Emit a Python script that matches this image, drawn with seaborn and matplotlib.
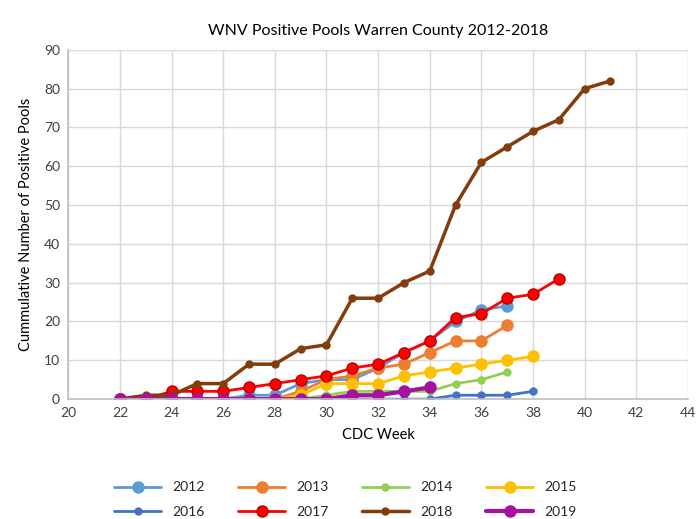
import numpy as np
import matplotlib
matplotlib.use("Agg")
import matplotlib.pyplot as plt
import seaborn as sns

weeks = list(range(22, 42))

y2012 = [0, 0, 0, 0, 0, 1, 1, 4, 5, 5, 8, 12, 15, 20, 23, 24]
y2013 = [0, 0, 0, 0, 0, 0, 0, 2, 5, 6, 8, 9, 12, 15, 15, 19]
y2014 = [0, 0, 0, 0, 0, 0, 0, 0, 1, 2, 2, 2, 2, 4, 5, 7]
y2015 = [0, 0, 0, 0, 0, 0, 0, 1, 4, 4, 4, 6, 7, 8, 9, 10, 11]
y2016 = [0, 0, 0, 0, 0, 0, 0, 0, 0, 0, 0, 0, 0, 1, 1, 1, 2]
y2017 = [0, 0, 2, 2, 2, 3, 4, 5, 6, 8, 9, 12, 15, 21, 22, 26, 27, 31]
y2018 = [0, 1, 1, 4, 4, 9, 9, 13, 14, 26, 26, 30, 33, 50, 61, 65, 69, 72, 80, 82]
y2019 = [0, 0, 0, 0, 0, 0, 0, 0, 0, 1, 1, 2, 3]

series = [
    ("2012", y2012, "#5B9BD5", "#5B9BD5", 8, 2.0),
    ("2013", y2013, "#ED7D31", "#ED7D31", 8, 2.0),
    ("2014", y2014, "#92D050", "#92D050", 5, 2.0),
    ("2015", y2015, "#FFC000", "#FFC000", 8, 2.0),
    ("2016", y2016, "#4472C4", "#4472C4", 5, 2.0),
    ("2017", y2017, "#FF0000", "#C00000", 8, 2.0),
    ("2018", y2018, "#843C0C", "#843C0C", 5, 2.5),
    ("2019", y2019, "#A5129F", "#A5129F", 8, 3.0),
]

sns.set_style("white")
plt.rcParams["font.family"] = ["Lato", "DejaVu Sans"]

fig, ax = plt.subplots(figsize=(6.97, 5.19), dpi=100)
fig.subplots_adjust(left=0.098, right=0.987, top=0.904, bottom=0.231)

handles = {}
for name, vals, col, edge, ms, lw in series:
    sns.lineplot(x=weeks[:len(vals)], y=vals, ax=ax, color=col, linewidth=lw,
                 marker="o", markersize=ms, markerfacecolor=col,
                 markeredgecolor=edge, markeredgewidth=1.0, label=name)
    handles[name] = ax.lines[-1]

ax.set_xlim(20, 44)
ax.set_ylim(0, 90)
ax.set_xticks(np.arange(20, 45, 2))
ax.set_yticks(np.arange(0, 91, 10))
ax.grid(True, color="#D9D9D9", linewidth=1.0)
ax.set_axisbelow(True)
for s in ["top", "right"]:
    ax.spines[s].set_visible(False)
for s in ["left", "bottom"]:
    ax.spines[s].set_color("#BFBFBF")
    ax.spines[s].set_linewidth(1.2)
ax.tick_params(axis="both", labelsize=10, colors="#404040", length=0, pad=6)

ax.set_xlabel("CDC Week", fontsize=10.5, color="#000000", labelpad=6)
ax.set_ylabel("Cummulative Number of Positive Pools", fontsize=10.5, color="#000000", labelpad=8)
ax.set_title("WNV Positive Pools Warren County 2012-2018", fontsize=11.5, color="#000000", pad=11)

# legend fills column-wise, so reorder to get 2012-2015 on the first row
order = ["2012", "2016", "2013", "2017", "2014", "2018", "2015", "2019"]
ax.legend([handles[n] for n in order], order, loc="upper center",
          bbox_to_anchor=(0.447, -0.2), ncol=4, frameon=False, fontsize=10,
          handlelength=3.4, handletextpad=0.8, columnspacing=2.4, labelspacing=0.9)

fig.savefig("out.png", dpi=100)
